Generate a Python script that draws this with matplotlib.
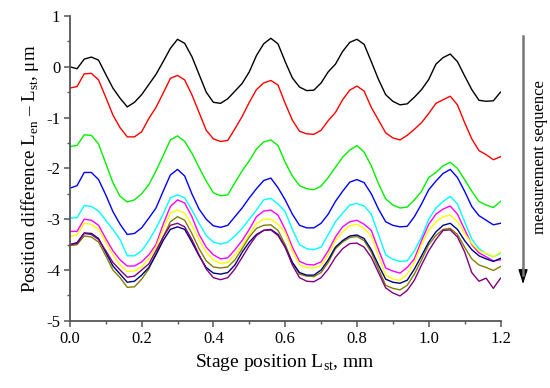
import numpy as np
import matplotlib
matplotlib.use("Agg")
import matplotlib.pyplot as plt
from matplotlib.ticker import MultipleLocator, FormatStrFormatter
from matplotlib.patches import FancyArrowPatch
from matplotlib.lines import Line2D

plt.rcParams['font.family'] = 'serif'
plt.rcParams['font.serif'] = ['Liberation Serif', 'DejaVu Serif']
plt.rcParams['mathtext.fontset'] = 'custom'
plt.rcParams['mathtext.rm'] = 'Liberation Serif'
plt.rcParams['axes.unicode_minus'] = False

position = [0.00, 0.02, 0.04, 0.06, 0.08, 0.10, 0.12, 0.14, 0.16, 0.18,
            0.20, 0.22, 0.24, 0.26, 0.28, 0.30, 0.32, 0.34, 0.36, 0.38,
            0.40, 0.42, 0.44, 0.46, 0.48, 0.50, 0.52, 0.54, 0.56, 0.58,
            0.60, 0.62, 0.64, 0.66, 0.68, 0.70, 0.72, 0.74, 0.76, 0.78,
            0.80, 0.82, 0.84, 0.86, 0.88, 0.90, 0.92, 0.94, 0.96, 0.98,
            1.00, 1.02, 1.04, 1.06, 1.08, 1.10, 1.12, 1.14, 1.16, 1.18, 1.20]

run1_black = [0.00, -0.04, 0.15, 0.19, 0.13, -0.15, -0.42, -0.62, -0.79, -0.70,
              -0.55, -0.35, -0.15, 0.10, 0.36, 0.54, 0.46, 0.20, -0.15, -0.50,
              -0.70, -0.72, -0.63, -0.48, -0.33, -0.10, 0.22, 0.45, 0.56, 0.45,
              0.10, -0.22, -0.40, -0.47, -0.46, -0.32, -0.10, 0.05, 0.30, 0.48,
              0.54, 0.44, 0.10, -0.25, -0.55, -0.68, -0.75, -0.73, -0.60, -0.45,
              -0.25, 0.05, 0.18, 0.25, 0.10, -0.18, -0.45, -0.66, -0.68, -0.67, -0.50]

run2_red = [-0.42, -0.39, -0.14, -0.13, -0.26, -0.60, -0.95, -1.20, -1.38, -1.38,
            -1.28, -1.02, -0.80, -0.52, -0.23, -0.17, -0.26, -0.55, -0.90, -1.25,
            -1.42, -1.47, -1.45, -1.22, -0.98, -0.70, -0.45, -0.32, -0.27, -0.36,
            -0.72, -1.05, -1.27, -1.32, -1.33, -1.25, -1.06, -0.90, -0.65, -0.46,
            -0.38, -0.48, -0.80, -1.05, -1.30, -1.40, -1.44, -1.35, -1.23, -1.10,
            -0.92, -0.72, -0.65, -0.58, -0.75, -1.10, -1.42, -1.65, -1.73, -1.83, -1.77]

run3_green = [-1.57, -1.55, -1.34, -1.35, -1.52, -1.90, -2.28, -2.55, -2.66, -2.62,
              -2.50, -2.32, -2.05, -1.75, -1.44, -1.36, -1.47, -1.70, -1.98, -2.25,
              -2.48, -2.54, -2.52, -2.28, -2.05, -1.85, -1.62, -1.48, -1.44, -1.55,
              -1.88, -2.15, -2.34, -2.40, -2.42, -2.35, -2.18, -1.98, -1.78, -1.64,
              -1.55, -1.68, -1.95, -2.30, -2.60, -2.72, -2.78, -2.76, -2.62, -2.45,
              -2.18, -2.08, -1.95, -1.88, -2.00, -2.22, -2.45, -2.65, -2.72, -2.77, -2.65]

run4_blue = [-2.39, -2.34, -2.08, -2.08, -2.22, -2.52, -2.85, -3.10, -3.30, -3.28,
             -3.17, -2.98, -2.78, -2.45, -2.13, -2.02, -2.15, -2.50, -2.80, -3.00,
             -3.13, -3.16, -3.12, -2.95, -2.78, -2.58, -2.40, -2.24, -2.19, -2.38,
             -2.62, -2.90, -3.12, -3.17, -3.17, -3.08, -2.90, -2.65, -2.45, -2.27,
             -2.22, -2.28, -2.50, -2.80, -3.05, -3.12, -3.15, -3.14, -2.95, -2.70,
             -2.42, -2.25, -2.10, -2.02, -2.18, -2.45, -2.75, -2.93, -3.02, -3.11, -3.08]

run5_cyan = [-2.98, -2.97, -2.73, -2.75, -2.84, -3.02, -3.20, -3.40, -3.72, -3.72,
             -3.62, -3.42, -3.18, -2.90, -2.58, -2.52, -2.58, -2.82, -3.08, -3.32,
             -3.45, -3.49, -3.45, -3.33, -3.18, -3.00, -2.82, -2.62, -2.59, -2.70,
             -2.85, -3.20, -3.50, -3.58, -3.60, -3.55, -3.30, -3.05, -2.88, -2.72,
             -2.69, -2.74, -2.90, -3.30, -3.70, -3.79, -3.83, -3.82, -3.62, -3.35,
             -3.00, -2.78, -2.65, -2.55, -2.70, -3.05, -3.39, -3.58, -3.68, -3.74, -3.67]

run6_magenta = [-3.24, -3.24, -3.00, -3.02, -3.12, -3.38, -3.62, -3.80, -3.92, -3.92,
                -3.84, -3.70, -3.50, -3.10, -2.75, -2.62, -2.68, -2.95, -3.30, -3.55,
                -3.70, -3.78, -3.76, -3.60, -3.42, -3.20, -2.95, -2.84, -2.82, -2.92,
                -3.20, -3.55, -3.83, -3.89, -3.90, -3.84, -3.62, -3.35, -3.15, -3.05,
                -3.02, -3.10, -3.22, -3.60, -3.96, -4.02, -4.06, -3.95, -3.78, -3.42,
                -3.10, -2.90, -2.80, -2.74, -2.90, -3.20, -3.50, -3.66, -3.74, -3.82, -3.80]

run7_yellow = [-3.34, -3.31, -3.08, -3.10, -3.20, -3.45, -3.70, -3.90, -4.03, -4.02,
               -3.94, -3.78, -3.55, -3.20, -2.88, -2.82, -2.88, -3.12, -3.40, -3.65,
               -3.80, -3.87, -3.85, -3.70, -3.52, -3.30, -3.08, -3.00, -3.00, -3.10,
               -3.26, -3.62, -3.90, -3.95, -3.96, -3.91, -3.70, -3.42, -3.25, -3.13,
               -3.10, -3.18, -3.33, -3.72, -4.10, -4.18, -4.20, -4.08, -3.85, -3.50,
               -3.22, -3.05, -2.95, -2.92, -3.05, -3.28, -3.48, -3.62, -3.67, -3.74, -3.65]

run8_olive = [-3.52, -3.50, -3.33, -3.35, -3.45, -3.72, -4.00, -4.15, -4.34, -4.33,
              -4.18, -3.98, -3.68, -3.35, -3.05, -2.95, -3.02, -3.28, -3.58, -3.82,
              -3.94, -3.96, -3.94, -3.80, -3.58, -3.35, -3.18, -3.12, -3.11, -3.22,
              -3.50, -3.85, -4.08, -4.12, -4.13, -4.05, -3.85, -3.58, -3.45, -3.36,
              -3.34, -3.42, -3.65, -3.98, -4.30, -4.36, -4.39, -4.30, -4.08, -3.80,
              -3.50, -3.32, -3.20, -3.18, -3.30, -3.55, -3.78, -3.90, -3.95, -4.01, -3.93]

run9_navy = [-3.50, -3.46, -3.27, -3.28, -3.38, -3.65, -3.92, -4.08, -4.24, -4.22,
             -4.10, -3.95, -3.70, -3.42, -3.20, -3.15, -3.20, -3.45, -3.72, -3.95,
             -4.06, -4.08, -4.05, -3.90, -3.65, -3.45, -3.30, -3.22, -3.20, -3.30,
             -3.55, -3.85, -4.05, -4.10, -4.10, -4.00, -3.80, -3.55, -3.42, -3.33,
             -3.31, -3.38, -3.60, -3.90, -4.18, -4.24, -4.26, -4.20, -3.98, -3.72,
             -3.45, -3.25, -3.12, -3.08, -3.20, -3.42, -3.60, -3.72, -3.78, -3.83, -3.77]

run10_purple = [-3.50, -3.48, -3.28, -3.30, -3.40, -3.62, -3.85, -4.00, -4.14, -4.12,
                -4.00, -3.88, -3.62, -3.35, -3.12, -3.08, -3.15, -3.40, -3.70, -3.98,
                -4.15, -4.19, -4.15, -3.98, -3.75, -3.52, -3.32, -3.22, -3.21, -3.32,
                -3.55, -3.90, -4.15, -4.22, -4.23, -4.15, -3.98, -3.75, -3.58, -3.48,
                -3.47, -3.55, -3.75, -4.05, -4.35, -4.45, -4.51, -4.40, -4.20, -3.90,
                -3.62, -3.40, -3.22, -3.21, -3.35, -3.64, -4.05, -4.22, -4.16, -4.36, -4.16]

series = [run1_black, run2_red, run3_green, run4_blue, run5_cyan,
          run6_magenta, run7_yellow, run8_olive, run9_navy, run10_purple]
colors = ['#000000', '#ff0000', '#00f000', '#0000ff', '#00ffff',
          '#ff00ff', '#ffff00', '#808000', '#000080', '#800080']

fig = plt.figure(figsize=(5.5, 3.88), dpi=100)
ax = fig.add_axes([0.127, 0.173, 0.783, 0.786])

for vals, c in zip(series, colors):
    ax.plot(position, vals, color=c, lw=1.0)

ax.set_xlim(0, 1.2)
ax.set_ylim(-5, 1)
ax.xaxis.set_major_locator(MultipleLocator(0.2))
ax.xaxis.set_minor_locator(MultipleLocator(0.1))
ax.yaxis.set_major_locator(MultipleLocator(1))
ax.yaxis.set_minor_locator(MultipleLocator(0.5))
ax.xaxis.set_major_formatter(FormatStrFormatter('%.1f'))
ax.yaxis.set_major_formatter(FormatStrFormatter('%d'))

for s in ['top', 'right']:
    ax.spines[s].set_visible(False)
for s in ['left', 'bottom']:
    ax.spines[s].set_color('#555555')
    ax.spines[s].set_linewidth(1.3)

ax.tick_params(which='major', direction='out', length=4, width=1.1,
               color='#555555', labelsize=12, pad=3)
ax.tick_params(which='minor', direction='out', length=2.2, width=1.0,
               color='#555555')

ax.set_xlabel(r'Stage position L$_\mathregular{st}$, mm', fontsize=14, labelpad=4)
ax.set_ylabel(r'Position difference L$_\mathregular{en}$ – L$_\mathregular{st}$, μm',
              fontsize=13.6, labelpad=4)

# measurement sequence arrow: gray shaft, black head
fig.add_artist(Line2D([0.951, 0.951], [0.907, 0.29], transform=fig.transFigure,
                      color='#777777', lw=1.8))
fig.add_artist(FancyArrowPatch(
    (0.951, 0.31), (0.951, 0.268), transform=fig.transFigure,
    arrowstyle='-|>,head_length=9,head_width=2.9', mutation_scale=1,
    color='#000000', lw=0.8, shrinkA=0, shrinkB=0))
fig.text(0.982, 0.595, 'measurement sequence', rotation=90,
         ha='center', va='center', fontsize=12)

fig.savefig('out.png', dpi=100)
